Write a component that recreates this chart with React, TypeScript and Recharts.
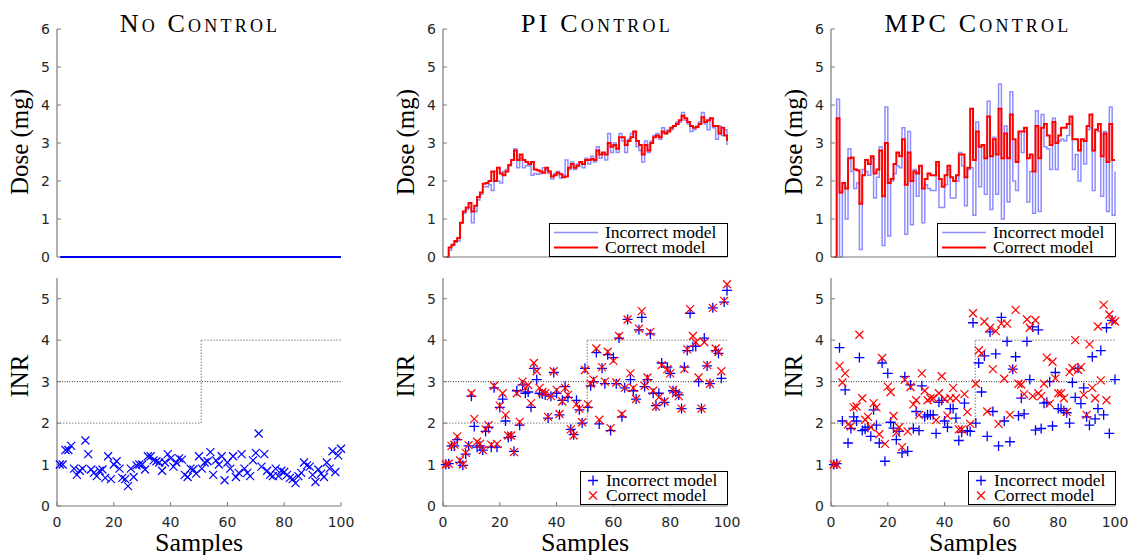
import React from "react";
import { LineChart, Line, ScatterChart, Scatter, XAxis, YAxis, ReferenceLine, Legend } from "recharts";

// ---- data ----
const sampleTicks = [0, 20, 40, 60, 80, 100];
const doseTicks = [0, 1, 2, 3, 4, 5, 6];
const inrTicks = [0, 1, 2, 3, 4, 5];

const panelTitles = ["No Control", "PI Control", "MPC Control"];
const seriesNames = ["Incorrect model", "Correct model"];

// INR target band: [2,3] up to the switch, [3,4] after it
const targetSwitch = 50.8;
const targetBefore = [2, 3];
const targetAfter = [3, 4];

const noControlDose = [
  0, 0, 0, 0, 0, 0, 0, 0, 0, 0, 0, 0, 0, 0, 0, 0, 0, 0, 0, 0,
  0, 0, 0, 0, 0, 0, 0, 0, 0, 0, 0, 0, 0, 0, 0, 0, 0, 0, 0, 0,
  0, 0, 0, 0, 0, 0, 0, 0, 0, 0, 0, 0, 0, 0, 0, 0, 0, 0, 0, 0,
  0, 0, 0, 0, 0, 0, 0, 0, 0, 0, 0, 0, 0, 0, 0, 0, 0, 0, 0, 0,
  0, 0, 0, 0, 0, 0, 0, 0, 0, 0, 0, 0, 0, 0, 0, 0, 0, 0, 0, 0,
];

const noControlInr = [
  1.0, 1.0, 1.35, 1.35, 1.45, 0.9, 0.75, 0.85, 0.9, 1.58,
  1.25, 0.88, 0.8, 0.72, 0.85, 0.88, 0.68, 1.2, 0.65, 1.0,
  1.08, 0.9, 0.68, 0.65, 0.48, 0.9, 0.7, 0.98, 1.0, 1.0,
  0.88, 1.2, 1.2, 1.1, 1.08, 1.05, 0.85, 1.05, 1.25, 1.15,
  0.95, 1.05, 1.15, 1.12, 0.75, 0.7, 0.9, 0.88, 0.78, 1.2,
  0.9, 1.05, 1.08, 1.3, 0.75, 1.1, 1.0, 1.2, 0.62, 1.05,
  0.9, 1.2, 0.7, 0.8, 1.25, 0.9, 0.8, 0.72, 1.1, 1.28,
  1.75, 0.95, 1.25, 0.85, 0.75, 0.72, 0.9, 0.72, 0.85, 0.82,
  0.75, 0.68, 0.65, 0.55, 0.72, 0.8, 1.05, 0.98, 0.95, 0.75,
  0.58, 0.88, 0.78, 0.7, 1.05, 0.9, 1.32, 0.82, 1.22, 1.38,
];

const piDoseIncorrect = [
  0, 0.18, 0.3, 0.38, 0.42, 0.9, 1.15, 1.25, 1.3, 0.9,
  1.2, 1.5, 1.65, 1.85, 1.85, 1.9, 1.75, 2.25, 2.0, 1.95,
  2.25, 2.3, 2.4, 2.55, 2.85, 2.35, 2.6, 2.35, 2.4, 2.4,
  2.15, 2.2, 2.18, 2.2, 2.35, 2.3, 2.2, 2.05, 2.2, 2.25,
  2.08, 2.15, 2.55, 2.3, 2.5, 2.3, 2.45, 2.5, 2.35, 2.6,
  2.45, 2.65, 2.5, 2.9, 2.6, 2.7, 2.55, 3.25, 2.75, 3.0,
  2.75, 3.25, 3.05, 2.75, 3.1, 3.25, 3.3, 2.9, 2.8, 2.5,
  3.05, 2.75, 3.05, 3.2, 3.25, 3.1, 3.4, 3.25, 3.35, 3.35,
  3.45, 3.55, 3.55, 3.8, 3.6, 3.5, 3.3, 3.35, 3.45, 3.55,
  3.8, 3.5, 3.35, 3.65, 3.4, 3.1, 3.45, 3.2, 3.35, 2.95,
];

const piDoseCorrect = [
  0, 0.25, 0.32, 0.42, 0.5, 0.9, 1.2, 1.3, 1.42, 1.2,
  1.35, 1.58, 1.7, 1.93, 1.95, 2.0, 2.25, 2.0, 2.35, 2.2,
  2.15, 2.25, 2.42, 2.55, 2.8, 2.55, 2.7, 2.55, 2.5, 2.45,
  2.5, 2.3, 2.28, 2.25, 2.22, 2.35, 2.25, 2.12, 2.15, 2.22,
  2.18, 2.1, 2.12, 2.35, 2.45, 2.35, 2.4, 2.5, 2.45, 2.55,
  2.55, 2.58, 2.55, 2.8, 2.7, 2.75, 2.7, 3.0, 2.9, 2.95,
  2.85, 3.15, 3.15, 2.95, 3.05, 3.15, 3.3, 3.05, 2.95, 2.7,
  2.95, 2.8, 3.0, 3.15, 3.2, 3.15, 3.3, 3.25, 3.3, 3.4,
  3.45, 3.5, 3.6, 3.72, 3.65, 3.55, 3.45, 3.4, 3.42, 3.5,
  3.68, 3.55, 3.6, 3.65, 3.45, 3.45, 3.25, 3.4, 3.2, 3.05,
];

const piInrIncorrect = [
  1.0, 1.02, 1.45, 1.45, 1.6, 1.05, 0.98, 1.25, 1.45, 2.65,
  1.92, 1.42, 1.45, 1.35, 1.8, 1.9, 1.42, 2.85, 1.42, 2.38,
  2.58, 2.05, 1.65, 1.68, 1.32, 2.78, 1.95, 2.92, 2.72, 2.75,
  2.38, 3.32, 3.05, 2.72, 2.7, 2.68, 2.12, 2.65, 3.22, 2.72,
  2.2, 2.55, 2.88, 2.62, 1.85, 1.72, 2.55, 2.32, 2.0, 3.32,
  2.38, 2.9, 3.0, 3.7, 1.98, 3.32, 2.95, 3.65, 1.82, 3.58,
  2.95, 4.05, 2.15, 2.85, 4.5, 3.05, 2.78, 2.58, 4.25, 4.55,
  2.88, 3.05, 4.15, 2.72, 2.42, 2.72, 3.45, 2.5, 3.35, 3.2,
  2.78, 2.75, 2.68, 2.35, 3.35, 3.75, 4.65, 3.85, 3.85, 3.0,
  2.35, 4.05, 3.38, 2.95, 4.78, 3.75, 3.68, 3.08, 4.92, 5.2,
];

const piInrCorrect = [
  1.0, 1.02, 1.45, 1.48, 1.68, 1.1, 1.0, 1.28, 1.47, 2.72,
  2.1, 1.55, 1.5, 1.35, 1.85, 1.95, 1.48, 2.9, 1.5, 2.42,
  2.72, 2.2, 1.7, 1.7, 1.3, 2.72, 2.03, 3.0, 2.85, 2.92,
  2.48, 3.45, 3.25, 2.85, 2.75, 2.72, 2.15, 2.65, 3.25, 2.8,
  2.22, 2.52, 2.85, 2.68, 1.85, 1.7, 2.45, 2.35, 2.02, 3.28,
  2.45, 2.95, 3.05, 3.8, 2.08, 3.35, 3.0, 3.72, 1.88, 3.5,
  2.98, 4.1, 2.22, 2.85, 4.5, 3.2, 2.85, 2.58, 4.28, 4.7,
  2.9, 3.1, 4.2, 2.78, 2.4, 2.62, 3.4, 2.52, 3.3, 3.2,
  2.8, 2.72, 2.65, 2.35, 3.3, 3.78, 4.75, 4.1, 3.95, 3.1,
  2.35, 3.95, 3.4, 2.95, 4.78, 3.8, 3.72, 3.25, 4.95, 5.35,
];

const mpcDoseIncorrect = [
  0, 4.15, 0, 1.95, 1.0, 2.85, 2.25, 1.8, 1.95, 0.2,
  2.3, 2.25, 2.15, 2.6, 1.55, 2.1, 2.9, 0.3, 3.95, 0.55,
  2.0, 2.2, 2.4, 2.35, 3.4, 0.6, 3.3, 0.85, 2.3, 1.6,
  2.4, 0.9, 1.9, 1.8, 1.75, 1.75, 2.4, 1.3, 1.3, 1.9,
  2.3, 1.55, 1.55, 2.0, 2.75, 2.4, 1.35, 2.3, 2.35, 1.1,
  3.55, 1.85, 2.95, 1.65, 4.1, 1.25, 3.15, 1.65, 4.55, 1.0,
  3.45, 1.45, 4.35, 2.0, 1.75, 3.25, 2.75, 3.3, 1.45, 2.25,
  1.15, 3.85, 1.2, 3.75, 2.9, 2.85, 2.3, 3.65, 2.3, 3.05,
  3.1, 3.05, 3.2, 3.5, 2.3, 2.7, 2.0, 3.1, 2.45, 3.35,
  3.4, 1.75, 3.35, 3.3, 1.6, 3.3, 1.2, 3.95, 1.1, 2.25,
];

const mpcDoseCorrect = [
  0, 3.65, 1.7, 1.95, 1.8, 2.6, 2.62, 2.3, 2.28, 1.4,
  2.15, 2.55, 2.45, 2.65, 2.2, 2.3, 2.8, 1.6, 3.0, 1.95,
  2.05, 2.45, 2.75, 2.65, 3.1, 1.9, 2.75, 2.0, 2.25, 2.2,
  2.4, 1.8, 2.05, 2.2, 2.15, 2.15, 2.5, 2.05, 1.85, 2.15,
  2.4, 2.1, 2.0, 2.15, 2.7, 2.7, 2.1, 2.35, 3.9, 2.55,
  3.3, 2.9, 2.95, 2.6, 3.7, 2.65, 3.1, 2.7, 3.9, 2.6,
  3.25, 2.6, 3.75, 3.1, 2.5, 3.3, 3.3, 3.4, 2.6, 2.7,
  2.25, 3.45, 2.6, 3.4, 3.5, 3.2, 2.95, 3.55, 3.0, 3.2,
  3.4, 3.4, 3.5, 3.7, 3.1, 3.1, 2.8, 3.1, 3.05, 3.45,
  3.75, 2.8, 3.35, 3.5, 2.65, 3.25, 2.5, 3.5, 2.55, 2.55,
];

const mpcInrIncorrect = [
  1.0, 1.02, 3.82, 2.05, 2.8, 1.52, 1.87, 2.15, 2.05, 3.58,
  1.82, 1.85, 1.9, 1.68, 2.32, 1.95, 1.52, 3.45, 1.08, 3.2,
  2.02, 1.88, 1.6, 1.8, 1.28, 3.12, 1.32, 2.92, 1.87, 2.28,
  1.82, 2.9, 2.15, 2.2, 2.2, 2.2, 1.75, 2.5, 2.55, 2.05,
  1.9, 2.35, 2.35, 2.12, 1.58, 1.78, 2.48, 1.82, 1.8, 4.42,
  2.0, 3.45, 2.75, 3.62, 1.68, 4.2, 2.28, 3.67, 1.45, 4.55,
  2.05, 3.97, 1.55, 3.3, 3.6, 2.18, 2.6, 2.22, 3.97, 3.05,
  4.32, 1.83, 4.25, 1.87, 2.48, 2.5, 3.0, 1.93, 3.22, 2.35,
  2.35, 2.3, 2.25, 2.0, 2.98, 2.62, 3.32, 2.47, 2.85, 2.15,
  1.95, 3.6, 2.1, 2.35, 3.75, 2.2, 4.3, 1.75, 4.48, 3.05,
];

const mpcInrCorrect = [
  1.0, 1.0, 3.38, 2.98, 3.2, 1.97, 1.92, 2.38, 2.4, 4.13,
  2.6, 2.08, 2.15, 1.9, 2.48, 2.38, 1.73, 3.57, 1.5, 2.88,
  2.75, 2.17, 1.77, 1.9, 1.42, 3.05, 1.8, 2.87, 2.45, 2.55,
  2.2, 3.2, 2.78, 2.55, 2.6, 2.6, 2.07, 2.72, 3.13, 2.58,
  2.18, 2.6, 2.85, 2.6, 1.85, 1.85, 2.7, 2.27, 1.98, 4.65,
  2.95, 3.75, 3.68, 4.45, 2.28, 4.3, 3.3, 4.22, 1.98, 4.4,
  3.07, 4.4, 2.2, 3.3, 4.73, 2.95, 2.93, 2.7, 4.5, 4.3,
  2.65, 4.48, 2.72, 2.65, 2.95, 3.58, 2.47, 3.48, 3.08, 2.72,
  2.72, 2.6, 2.27, 3.23, 3.33, 4.0, 3.28, 3.35, 2.68, 2.2,
  3.9, 2.85, 2.6, 4.33, 3.03, 4.85, 2.55, 4.62, 4.48, 4.45,
];

// ---- styling / layout ----
const BLUE = "#0000ff";
const RED = "#ff0000";
const AXIS = "#7a7a7a";
const SERIF = "'Liberation Serif', 'Times New Roman', serif";
const tickStyle = { fill: "#262626", fontSize: 14, fontFamily: "'DejaVu Sans', sans-serif" };

const AXIS_LEFT = [57, 443, 831];
const TITLE_X = [200, 597, 978];
const PLOT_W = 284;
const YAXIS_W = 57;
const RIGHT_PAD = 24;
const CHART_W = YAXIS_W + PLOT_W + RIGHT_PAD;

const toSteps = (incorrect: number[], correct?: number[]) =>
  incorrect.map((v, i) => ({ sample: i + 1, incorrect: v, correct: correct ? correct[i] : null }));
const toPoints = (values: number[]) => values.map((v, i) => ({ sample: i + 1, inr: v }));

const Plus = (props: any) => {
  const { cx, cy, fill } = props;
  if (cx == null || cy == null) return null;
  const s = 5;
  return <path d={`M${cx - s},${cy}H${cx + s}M${cx},${cy - s}V${cy + s}`} stroke={fill} strokeWidth={1.3} fill="none" />;
};

const Cross = (props: any) => {
  const { cx, cy, fill } = props;
  if (cx == null || cy == null) return null;
  const s = 4;
  return (
    <path
      d={`M${cx - s},${cy - s}L${cx + s},${cy + s}M${cx - s},${cy + s}L${cx + s},${cy - s}`}
      stroke={fill}
      strokeWidth={1.2}
      fill="none"
    />
  );
};

type LegendKind = "line-light" | "line-bold" | "plus" | "cross";

const LegendBox = ({ kinds, iconW, width }: { kinds: LegendKind[]; iconW: number; width: number }) => (
  <div
    style={{
      boxSizing: "border-box",
      width,
      height: 34,
      border: "1px solid #000",
      background: "#fff",
      fontFamily: SERIF,
      fontSize: 17.5,
      color: "#000",
      paddingTop: 1,
    }}
  >
    {kinds.map((k, i) => (
      <div key={k} style={{ display: "flex", alignItems: "center", height: 15, lineHeight: "15px" }}>
        <svg width={iconW} height={15} style={{ flex: "none" }}>
          {k === "line-light" && <line x1={4} x2={iconW - 2} y1={7.5} y2={7.5} stroke={BLUE} strokeOpacity={0.45} strokeWidth={1.5} />}
          {k === "line-bold" && <line x1={4} x2={iconW - 2} y1={7.5} y2={7.5} stroke={RED} strokeWidth={2} />}
          {k === "plus" && <Plus cx={12} cy={7.5} fill={BLUE} />}
          {k === "cross" && <Cross cx={12} cy={7.5} fill={RED} />}
        </svg>
        <span style={{ marginLeft: 5, whiteSpace: "nowrap" }}>{seriesNames[i]}</span>
      </div>
    ))}
  </div>
);

const axisLineStyle = { stroke: AXIS, strokeWidth: 1.2 };

const DosePanel = ({ left, incorrect, correct, single }: { left: number; incorrect: number[]; correct?: number[]; single?: boolean }) => {
  const rows = toSteps(incorrect, correct);
  return (
    <div style={{ position: "absolute", left: left - YAXIS_W, top: 0 }}>
      <LineChart width={CHART_W} height={277} data={rows} margin={{ top: 29, right: RIGHT_PAD, bottom: 0, left: 0 }}>
        <XAxis
          type="number"
          dataKey="sample"
          domain={[0, 100]}
          ticks={sampleTicks}
          tick={false}
          tickSize={-4}
          height={20}
          axisLine={single ? false : axisLineStyle}
          tickLine={{ stroke: AXIS }}
        />
        <YAxis
          type="number"
          domain={[0, 6]}
          ticks={doseTicks}
          width={YAXIS_W}
          tickSize={-4}
          tickMargin={11}
          tick={tickStyle}
          axisLine={axisLineStyle}
          tickLine={{ stroke: AXIS }}
        />
        {single ? (
          <Line type="stepAfter" dataKey="incorrect" stroke={BLUE} strokeWidth={2} dot={false} isAnimationActive={false} />
        ) : (
          <Line type="stepAfter" dataKey="incorrect" name={seriesNames[0]} stroke={BLUE} strokeOpacity={0.45} strokeWidth={1.5} dot={false} isAnimationActive={false} />
        )}
        {!single && (
          <Line type="stepAfter" dataKey="correct" name={seriesNames[1]} stroke={RED} strokeWidth={2} dot={false} isAnimationActive={false} />
        )}
        {!single && (
          <Legend
            layout="vertical"
            align="center"
            verticalAlign="middle"
            wrapperStyle={{ left: YAXIS_W + 106, top: 223, width: 179, height: 34 }}
            content={() => <LegendBox kinds={["line-light", "line-bold"]} iconW={50} width={179} />}
          />
        )}
      </LineChart>
    </div>
  );
};

const InrPanel = ({ left, incorrect, correct, single }: { left: number; incorrect: number[]; correct?: number[]; single?: boolean }) => (
  <div style={{ position: "absolute", left: left - YAXIS_W, top: 260 }}>
    <ScatterChart width={CHART_W} height={276} margin={{ top: 18, right: RIGHT_PAD, bottom: 0, left: 0 }}>
      <XAxis
        type="number"
        dataKey="sample"
        domain={[0, 100]}
        ticks={sampleTicks}
        tickSize={-4}
        tickMargin={15}
        height={30}
        tick={tickStyle}
        axisLine={axisLineStyle}
        tickLine={{ stroke: AXIS }}
      />
      <YAxis
        type="number"
        dataKey="inr"
        domain={[0, 5.5]}
        ticks={inrTicks}
        width={YAXIS_W}
        tickSize={-4}
        tickMargin={11}
        tick={tickStyle}
        axisLine={axisLineStyle}
        tickLine={{ stroke: AXIS }}
      />
      <ReferenceLine y={targetBefore[1]} stroke="#333" strokeWidth={1} strokeDasharray="1 1.5" />
      <ReferenceLine segment={[{ x: 0, y: targetBefore[0] }, { x: targetSwitch, y: targetBefore[0] }]} stroke="#9a9a9a" strokeWidth={1.3} strokeDasharray="1.5 1.5" />
      <ReferenceLine segment={[{ x: targetSwitch, y: targetBefore[0] }, { x: targetSwitch, y: targetAfter[1] }]} stroke="#9a9a9a" strokeWidth={1.3} strokeDasharray="1.5 1.5" />
      <ReferenceLine segment={[{ x: targetSwitch, y: targetAfter[1] }, { x: 100, y: targetAfter[1] }]} stroke="#9a9a9a" strokeWidth={1.3} strokeDasharray="1.5 1.5" />
      {single ? (
        <Scatter data={toPoints(incorrect)} fill={BLUE} shape={Cross} isAnimationActive={false} />
      ) : (
        <Scatter data={toPoints(incorrect)} name={seriesNames[0]} fill={BLUE} shape={Plus} isAnimationActive={false} />
      )}
      {!single && correct && (
        <Scatter data={toPoints(correct)} name={seriesNames[1]} fill={RED} shape={Cross} isAnimationActive={false} />
      )}
      {!single && (
        <Legend
          layout="vertical"
          align="center"
          verticalAlign="middle"
          wrapperStyle={{ left: YAXIS_W + 137, top: 211, width: 148, height: 34 }}
          content={() => <LegendBox kinds={["plus", "cross"]} iconW={20} width={148} />}
        />
      )}
    </ScatterChart>
  </div>
);

export default function App() {
  return (
    <div style={{ position: "absolute", left: 0, top: 0, width: 1131, height: 555, background: "#fff", overflow: "hidden" }}>
      <DosePanel left={AXIS_LEFT[0]} incorrect={noControlDose} single />
      <DosePanel left={AXIS_LEFT[1]} incorrect={piDoseIncorrect} correct={piDoseCorrect} />
      <DosePanel left={AXIS_LEFT[2]} incorrect={mpcDoseIncorrect} correct={mpcDoseCorrect} />
      <InrPanel left={AXIS_LEFT[0]} incorrect={noControlInr} single />
      <InrPanel left={AXIS_LEFT[1]} incorrect={piInrIncorrect} correct={piInrCorrect} />
      <InrPanel left={AXIS_LEFT[2]} incorrect={mpcInrIncorrect} correct={mpcInrCorrect} />
      <svg width={1131} height={555} style={{ position: "absolute", left: 0, top: 0, pointerEvents: "none" }}>
        {AXIS_LEFT.map((x0, i) => (
          <g key={i} fill="#000">
            <text x={TITLE_X[i]} y={32} fontSize={26} fontFamily={SERIF} textAnchor="middle" style={{ fontVariant: "small-caps" }} letterSpacing={3.2}>
              {panelTitles[i]}
            </text>
            <text x={x0 - 29} y={142} fontSize={25} fontFamily={SERIF} textAnchor="middle" transform={`rotate(-90 ${x0 - 29} 142)`}>
              Dose (mg)
            </text>
            <text x={x0 - 29} y={376} fontSize={25} fontFamily={SERIF} textAnchor="middle" transform={`rotate(-90 ${x0 - 29} 376)`}>
              INR
            </text>
            <text x={x0 + PLOT_W / 2} y={551} fontSize={26} fontFamily={SERIF} textAnchor="middle">
              Samples
            </text>
          </g>
        ))}
      </svg>
    </div>
  );
}
